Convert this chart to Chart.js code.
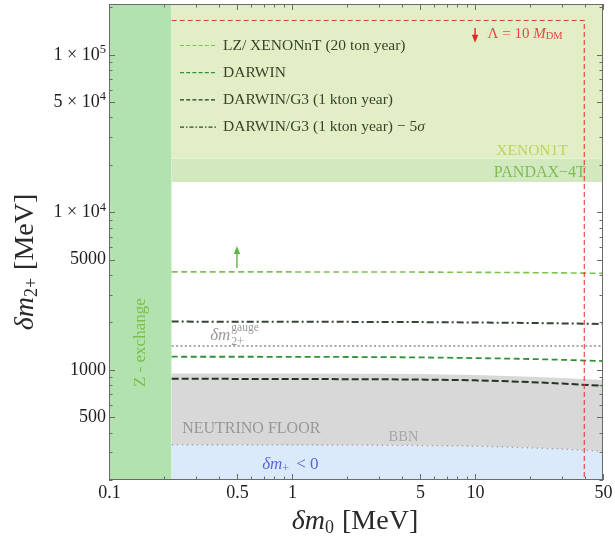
<!DOCTYPE html>
<html>
<head>
<meta charset="utf-8">
<script src="https://cdn.jsdelivr.net/npm/chart.js@4.4.1/dist/chart.umd.min.js"></script>
<style>
  html, body { margin: 0; padding: 0; background: #ffffff; }
  canvas { display: block; }
</style>
</head>
<body>
<canvas id="plot" width="615" height="543"></canvas>
<script>
// ---- axis ranges and tick labels ----
const xRange = [0.1, 50];
const yRange = [200, 2.1e5];
const xMajorTicks = [0.1, 0.5, 1, 5, 10, 50];
const xTickLabels = ['0.1', '0.5', '1', '5', '10', '50'];
const xMinorTicks = [0.2, 0.3, 0.4, 0.6, 0.7, 0.8, 0.9, 2, 3, 4, 6, 7, 8, 9, 20, 30, 40];
const yMajorTicks = [500, 1000, 5000, 1e4, 5e4, 1e5];
const yTickMantissa = ['500', '1000', '5000', '1 \u00d7 10', '5 \u00d7 10', '1 \u00d7 10'];
const yTickExponent = ['', '', '', '4', '4', '5'];
const yMinorTicks = [200, 300, 400, 600, 700, 800, 900, 2000, 3000, 4000, 6000, 7000, 8000, 9000,
                     2e4, 3e4, 4e4, 6e4, 7e4, 8e4, 9e4, 2e5];

// ---- excluded regions ----
const zExchangeEdge = 0.22;          // delta m0 below which Z exchange rules the model out
const xenon1tBound = 2.19e4;         // delta m2+ above this excluded by XENON1T
const pandax4tBound = 1.56e4;        // delta m2+ above this excluded by PANDAX-4T

// ---- curves sampled in delta m0 [MeV] ----
const massGrid = [0.22, 1, 5, 10, 20, 30, 50];
const lzXenonnt = [4190, 4185, 4175, 4160, 4140, 4125, 4100];
const darwinG3FiveSigma = [2025, 2020, 2010, 1998, 1985, 1972, 1955];
const gaugeSplitting = [1416, 1416, 1416, 1416, 1416, 1416, 1416];
const darwin = [1212, 1210, 1200, 1188, 1172, 1158, 1137];
const darwinG3 = [878, 875, 868, 858, 836, 818, 792];
const neutrinoFloor = [950, 948, 940, 928, 905, 888, 862];
const bbnBound = [335, 334, 331, 328, 320, 314, 305];

// ---- cutoff Lambda = 10 M_DM ----
const lambdaBoxX = [0.22, 39.5, 39.5];
const lambdaBoxY = [1.65e5, 1.65e5, 200];

// ---- arrows [x, yFrom, yTo] ----
const lambdaArrow = [10, 1.48e5, 1.19e5];
const lzArrow = [0.5, 4430, 6110];

const serif = '"Liberation Serif", "Times New Roman", serif';
const f = (size, style) => (style ? style + ' ' : '') + size + 'px ' + serif;

const pts = (xs, ys) => xs.map((x, i) => ({ x: x, y: ys[i] }));
const flat = (xs, v) => xs.map(x => ({ x: x, y: v }));

const region = (label, data, fill, color) => ({
  label, data, fill, backgroundColor: color, borderWidth: 0, pointRadius: 0, order: 20, tension: 0
});
const curve = (label, data, color, dash, width, order) => ({
  label, data, borderColor: color, borderDash: dash, borderWidth: width,
  pointRadius: 0, fill: false, order, cubicInterpolationMode: 'monotone', tension: 0.4
});

const datasets = [
  /*0*/ region('Z - exchange', flat([xRange[0], zExchangeEdge], yRange[1]), 'start', '#b2e2ad'),
  /*1*/ region('XENON1T', flat([zExchangeEdge, xRange[1]], xenon1tBound), 'end', '#e2efc6'),
  /*2*/ region('PANDAX-4T', flat([zExchangeEdge, xRange[1]], pandax4tBound), 1, '#d2e9bf'),
  /*3*/ region('BBN', pts(massGrid, bbnBound), 'start', '#dbeafa'),
  /*4*/ region('NEUTRINO FLOOR', pts(massGrid, neutrinoFloor), 3, '#d8d8d8'),
  /*5*/ curve('BBN line', pts(massGrid, bbnBound), '#a4a4a4', [1.5, 3.5], 1.3, 6),
  /*6*/ curve('gauge', pts(massGrid, gaugeSplitting), '#8c8c8c', [2, 2.4], 1.6, 5),
  /*7*/ curve('LZ/ XENONnT (20 ton year)', pts(massGrid, lzXenonnt), '#7dc24f', [6, 3.5], 1.6, 4),
  /*8*/ curve('DARWIN', pts(massGrid, darwin), '#2f9236', [6, 3.5], 1.8, 3),
  /*9*/ curve('DARWIN/G3 (1 kton year)', pts(massGrid, darwinG3), '#263426', [7, 3], 2, 2),
  /*10*/ curve('DARWIN/G3 (1 kton year) \u2212 5\u03c3', pts(massGrid, darwinG3FiveSigma), '#354535', [7, 3, 2, 3], 2, 1),
  /*11*/ { label: 'Lambda', data: pts(lambdaBoxX, lambdaBoxY), borderColor: '#e23a3a', borderDash: [5, 3],
           borderWidth: 1.1, pointRadius: 0, fill: false, order: 0, tension: 0 }
];

// legend rows: dataset index for each row
const legendRows = [7, 8, 9, 10];

function richText(ctx, parts, x, y, align) {
  let w = 0;
  parts.forEach(p => { ctx.font = p.font; p.w = ctx.measureText(p.t).width; w += p.w + (p.gap || 0); });
  let cx = align === 'center' ? x - w / 2 : align === 'right' ? x - w : x;
  parts.forEach(p => {
    ctx.font = p.font;
    if (p.color) ctx.fillStyle = p.color;
    ctx.fillText(p.t, cx, y + (p.dy || 0));
    cx += p.w + (p.gap || 0);
  });
}

function arrow(ctx, xs, ys, x, y0, y1, color) {
  const px = xs.getPixelForValue(x), p0 = ys.getPixelForValue(y0), p1 = ys.getPixelForValue(y1);
  const dir = p1 > p0 ? 1 : -1;
  ctx.strokeStyle = color; ctx.fillStyle = color; ctx.lineWidth = 1.4;
  ctx.beginPath(); ctx.moveTo(px, p0); ctx.lineTo(px, p1 - dir * 6); ctx.stroke();
  ctx.beginPath(); ctx.moveTo(px, p1); ctx.lineTo(px - 3.2, p1 - dir * 8); ctx.lineTo(px + 3.2, p1 - dir * 8);
  ctx.closePath(); ctx.fill();
}

const decorations = {
  id: 'decorations',
  beforeDraw(chart) {
    const ctx = chart.ctx;
    ctx.save(); ctx.fillStyle = '#ffffff'; ctx.fillRect(0, 0, chart.width, chart.height); ctx.restore();
  },
  afterDatasetsDraw(chart) {
    const ctx = chart.ctx, xs = chart.scales.x, ys = chart.scales.y, a = chart.chartArea;
    const X = v => xs.getPixelForValue(v), Y = v => ys.getPixelForValue(v);
    ctx.save();
    ctx.textBaseline = 'middle';

    // region labels
    ctx.save();
    ctx.translate(X(0.148), Y(1489));
    ctx.rotate(-Math.PI / 2);
    ctx.textAlign = 'center'; ctx.fillStyle = '#7cc04f'; ctx.font = f(17);
    ctx.fillText('Z - exchange', 0, 0);
    ctx.restore();

    ctx.textAlign = 'left';
    richText(ctx, [{ t: 'XENON1T', font: f(15.5), color: '#bdd35c' }], X(32.1), Y(2.45e4), 'right');
    richText(ctx, [{ t: 'PANDAX\u22124T', font: f(16), color: '#7dbd53' }], X(40.3), Y(1.78e4), 'right');
    richText(ctx, [{ t: 'NEUTRINO FLOOR', font: f(16), color: '#979797' }], X(0.251), Y(424), 'left');
    richText(ctx, [{ t: 'BBN', font: f(14.5), color: '#a6a6a6' }], X(3.37), Y(372), 'left');
    richText(ctx, [
      { t: '\u03b4m', font: f(17, 'italic'), color: '#5a68d8' },
      { t: '+', font: f(12), dy: 4, gap: 7 },
      { t: '< 0', font: f(17) }
    ], X(0.687), Y(251), 'left');
    // delta m_{2+}^{gauge}
    const gx = X(0.357), gy = Y(1652);
    ctx.fillStyle = '#9a9a9a';
    ctx.font = f(17, 'italic'); ctx.fillText('\u03b4m', gx, gy);
    const gw = ctx.measureText('\u03b4m').width;
    ctx.font = f(11.5); ctx.fillText('gauge', gx + gw + 1, gy - 8);
    ctx.font = f(12); ctx.fillText('2+', gx + gw + 1, gy + 6);

    // Lambda = 10 M_DM
    richText(ctx, [
      { t: '\u039b = 10 ', font: f(15), color: '#e44848' },
      { t: 'M', font: f(15, 'italic') },
      { t: 'DM', font: f(10.5), dy: 3 }
    ], X(11.7), Y(1.36e5), 'left');

    arrow(ctx, xs, ys, lambdaArrow[0], lambdaArrow[1], lambdaArrow[2], '#e02626');
    arrow(ctx, xs, ys, lzArrow[0], lzArrow[1], lzArrow[2], '#5bb846');

    // legend
    const rowY0 = a.top + 41.5, rowStep = 27.2;
    legendRows.forEach((di, i) => {
      const ds = chart.data.datasets[di];
      const y = rowY0 + i * rowStep;
      ctx.save();
      ctx.strokeStyle = ds.borderColor; ctx.lineWidth = 1.2;
      ctx.setLineDash(di === 10 ? [4, 2, 1.5, 2] : [4, 2.2]);
      ctx.beginPath(); ctx.moveTo(a.left + 71, y); ctx.lineTo(a.left + 107, y); ctx.stroke();
      ctx.restore();
      ctx.fillStyle = '#384328'; ctx.font = f(15.5); ctx.textAlign = 'left';
      if (di === 10) {
        richText(ctx, [
          { t: 'DARWIN/G3 (1 kton year) \u2212 5', font: f(15.5), color: '#384328' },
          { t: '\u03c3', font: f(15.5, 'italic') }
        ], a.left + 114, y, 'left');
      } else {
        ctx.fillText(ds.label, a.left + 114, y);
      }
    });
    ctx.restore();
  },
  afterDraw(chart) {
    const ctx = chart.ctx, xs = chart.scales.x, ys = chart.scales.y, a = chart.chartArea;
    ctx.save();
    // frame
    ctx.strokeStyle = '#6a6a6a'; ctx.lineWidth = 1;
    ctx.strokeRect(a.left + 0.5, a.top + 0.5, a.right - a.left - 1, a.bottom - a.top - 1);
    // inward ticks on all four sides
    ctx.beginPath();
    const xt = (v, len) => {
      const p = Math.round(xs.getPixelForValue(v)) + 0.5;
      ctx.moveTo(p, a.bottom); ctx.lineTo(p, a.bottom - len);
      ctx.moveTo(p, a.top); ctx.lineTo(p, a.top + len);
    };
    const yt = (v, len) => {
      const p = Math.round(ys.getPixelForValue(v)) + 0.5;
      ctx.moveTo(a.left, p); ctx.lineTo(a.left + len, p);
      ctx.moveTo(a.right, p); ctx.lineTo(a.right - len, p);
    };
    xMajorTicks.forEach(v => xt(v, 6)); xMinorTicks.forEach(v => xt(v, 3.5));
    yMajorTicks.forEach(v => yt(v, 6)); yMinorTicks.forEach(v => yt(v, 3.5));
    ctx.stroke();

    // tick labels
    ctx.fillStyle = '#1e1e1e'; ctx.textBaseline = 'middle';
    xMajorTicks.forEach((v, i) => {
      richText(ctx, [{ t: xTickLabels[i], font: f(18) }], xs.getPixelForValue(v) + 0.5, a.bottom + 13, 'center');
    });
    yMajorTicks.forEach((v, i) => {
      const parts = [{ t: yTickMantissa[i], font: f(18) }];
      if (yTickExponent[i]) parts.push({ t: yTickExponent[i], font: f(12.5), dy: -5 });
      richText(ctx, parts, a.left - 3, ys.getPixelForValue(v), 'right');
    });

    // axis titles
    ctx.fillStyle = '#2a2a2a';
    richText(ctx, [
      { t: '\u03b4m', font: f(28, 'italic') },
      { t: '0', font: f(18), dy: 6, gap: 8 },
      { t: '[MeV]', font: f(28) }
    ], (a.left + a.right) / 2 - 1, a.bottom + 42, 'center');
    ctx.save();
    ctx.translate(26, (a.top + a.bottom) / 2 + 20);
    ctx.rotate(-Math.PI / 2);
    richText(ctx, [
      { t: '\u03b4m', font: f(28, 'italic') },
      { t: '2+', font: f(18), dy: 6, gap: 8 },
      { t: '[MeV]', font: f(28) }
    ], 0, 0, 'center');
    ctx.restore();
    ctx.restore();
  }
};

new Chart(document.getElementById('plot'), {
  type: 'line',
  data: { datasets },
  options: {
    responsive: false,
    devicePixelRatio: 1,
    animation: false,
    parsing: true,
    layout: { padding: { left: 109, right: 12, top: 4, bottom: 63 } },
    plugins: { legend: { display: false }, tooltip: { enabled: false }, filler: { propagate: false } },
    scales: {
      x: { type: 'logarithmic', min: xRange[0], max: xRange[1], display: false },
      y: { type: 'logarithmic', min: yRange[0], max: yRange[1], display: false }
    }
  },
  plugins: [decorations]
});
</script>
</body>
</html>
